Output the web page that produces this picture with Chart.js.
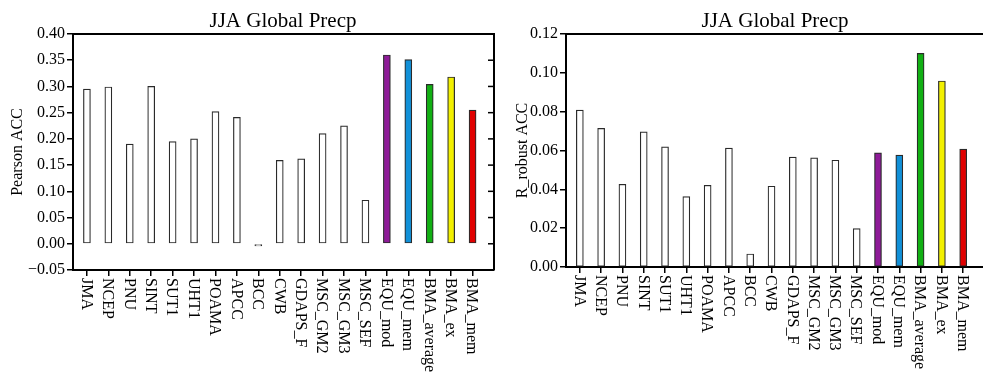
<!DOCTYPE html>
<html>
<head>
<meta charset="utf-8">
<script src="https://cdn.jsdelivr.net/npm/chart.js@4.4.1/dist/chart.umd.min.js"></script>
<style>
  html, body { margin: 0; padding: 0; background: #fff; }
  body { width: 983px; height: 373px; overflow: hidden; position: relative; }
  .box { position: absolute; top: 0; height: 373px; }
</style>
</head>
<body>
<div class="box" style="left:0;width:500px"><canvas id="leftChart" width="500" height="373"></canvas></div>
<div class="box" style="left:495px;width:500px"><canvas id="rightChart" width="500" height="373"></canvas></div>
<script>
const models = ['JMA', 'NCEP', 'PNU', 'SINT', 'SUT1', 'UHT1', 'POAMA', 'APCC', 'BCC', 'CWB',
  'GDAPS_F', 'MSC_GM2', 'MSC_GM3', 'MSC_SEF', 'EQU_mod', 'EQU_mem', 'BMA_average', 'BMA_ex', 'BMA_mem'];
const pearsonAcc = [0.295, 0.299, 0.190, 0.300, 0.195, 0.200, 0.252, 0.241, -0.004, 0.159,
  0.162, 0.210, 0.225, 0.083, 0.360, 0.351, 0.304, 0.318, 0.255];
const robustAcc = [0.0808, 0.0714, 0.0426, 0.0696, 0.0619, 0.0363, 0.0421, 0.0612, 0.0067, 0.0416,
  0.0566, 0.0562, 0.0550, 0.0198, 0.0588, 0.0576, 0.1100, 0.0958, 0.0607];
const pearsonTicks = [-0.05, 0, 0.05, 0.10, 0.15, 0.20, 0.25, 0.30, 0.35, 0.40];
const robustTicks = [0, 0.02, 0.04, 0.06, 0.08, 0.10, 0.12];
const barColors = models.map((m, i) => ['#8e1b98', '#1190d8', '#12b014', '#f2f000', '#e00000'][i - 14] || '#ffffff');

const FONT = "'Liberation Serif', 'DejaVu Serif', serif";

// title, x labels (rotated clockwise) and the top/right frame
const framePlugin = {
  id: 'frame',
  afterDraw(chart, args, opts) {
    const ctx = chart.ctx;
    const a = chart.chartArea;
    const xs = chart.scales.x, ys = chart.scales.y;
    ctx.save();
    ctx.strokeStyle = '#000';
    ctx.lineWidth = 2;
    ctx.beginPath();
    ctx.moveTo(a.left, a.top);
    ctx.lineTo(a.right, a.top);
    ctx.lineTo(a.right, a.bottom);
    ctx.stroke();
    ctx.lineWidth = 1.5;
    ys.ticks.forEach(t => {
      const y = ys.getPixelForValue(t.value);
      ctx.beginPath();
      ctx.moveTo(a.right - 6, y);
      ctx.lineTo(a.right, y);
      ctx.stroke();
    });
    ctx.fillStyle = '#000';
    ctx.font = '21px ' + FONT;
    ctx.textAlign = 'center';
    ctx.textBaseline = 'alphabetic';
    ctx.fillText(opts.title, opts.titleX, 27);
    ctx.font = '16px ' + FONT;
    ctx.textAlign = 'left';
    ctx.textBaseline = 'middle';
    models.forEach((m, i) => {
      ctx.save();
      ctx.translate(xs.getPixelForValue(i), a.bottom + 8);
      ctx.rotate(Math.PI / 2);
      ctx.fillText(m, 0, 1);
      ctx.restore();
    });
    ctx.restore();
  }
};

function makeChart(id, values, ticks, yLabel, yTitlePad, yWidth, xHeight, padRight, xMax, titleX) {
  return new Chart(document.getElementById(id), {
    type: 'bar',
    data: {
      datasets: [{
        data: values.map((v, i) => ({ x: i, y: v })),
        backgroundColor: barColors,
        borderColor: '#2a2a2a',
        borderWidth: 1.2,
        borderSkipped: false,
        barThickness: 7
      }]
    },
    options: {
      responsive: false,
      animation: false,
      layout: { padding: { top: 34, right: padRight, left: 0, bottom: 0 } },
      plugins: {
        legend: { display: false },
        tooltip: { enabled: false },
        frame: { title: 'JJA Global Precp', titleX: titleX }
      },
      scales: {
        x: {
          type: 'linear',
          min: -0.65,
          max: xMax,
          offset: false,
          afterBuildTicks: s => { s.ticks = models.map((m, i) => ({ value: i })); },
          afterFit: s => { s.height = xHeight; },
          ticks: { display: false },
          grid: { offset: false, drawOnChartArea: false, color: '#000', tickLength: 6, lineWidth: 1.5 },
          border: { display: true, color: '#000', width: 2 }
        },
        y: {
          min: ticks[0],
          max: ticks[ticks.length - 1],
          afterBuildTicks: s => { s.ticks = ticks.map(v => ({ value: v })); },
          afterFit: s => { s.width = yWidth; },
          ticks: {
            color: '#000',
            padding: 2,
            font: { family: FONT, size: 16 },
            callback: v => v.toFixed(2).replace('-', '\u2212')
          },
          grid: { drawOnChartArea: false, color: '#000', tickLength: 6, lineWidth: 1.5 },
          border: { display: true, color: '#000', width: 2 },
          title: {
            display: true,
            text: yLabel,
            color: '#000',
            font: { family: FONT, size: 16 },
            padding: { top: yTitlePad, bottom: 0 }
          }
        }
      }
    },
    plugins: [framePlugin]
  });
}

makeChart('leftChart', pearsonAcc, pearsonTicks, 'Pearson ACC', 8, 73, 103, 6, 19, 283);
makeChart('rightChart', robustAcc, robustTicks, 'R_robust ACC', 18, 71, 106, 2, 19.4, 280);
</script>
</body>
</html>
